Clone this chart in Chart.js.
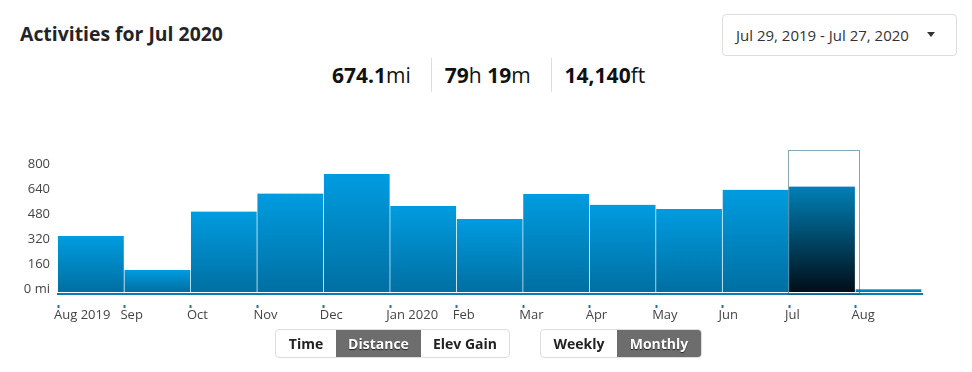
<!DOCTYPE html>
<html>
<head>
<meta charset="utf-8">
<title>Activities for Jul 2020</title>
<script src="https://cdn.jsdelivr.net/npm/chart.js@4.4.1/dist/chart.umd.min.js"></script>
<style>
  body { margin: 0; width: 972px; height: 372px; position: relative; overflow: hidden; background: #fff; font-family: "Open Sans", sans-serif; color: #242428; }
  .title { position: absolute; left: 20px; top: 20px; font-size: 19.4px; font-weight: 700; line-height: 28px; }
  .stats { position: absolute; left: 332px; top: 58px; height: 34px; display: flex; }
  .stat { padding: 0 20px 0 13px; font-size: 21px; line-height: 34px; color: #111; }
  .stat:first-child { padding-left: 0; }
  .stat + .stat { border-left: 1px solid #ddd; }
  .range { position: absolute; left: 722px; top: 14px; width: 235px; height: 42px; box-sizing: border-box; border: 1px solid #ddd; border-radius: 4px; font-size: 15px; line-height: 40px; padding-left: 13px; color: #333; }
  .range:after { content: ''; position: absolute; right: 21px; top: 17px; border-left: 4px solid transparent; border-right: 4px solid transparent; border-top: 5px solid #333; }
  .chart-wrap { position: absolute; left: 0; top: 134px; width: 972px; height: 196px; }
  .group { position: absolute; top: 329px; height: 29px; display: flex; box-sizing: border-box; border: 1px solid #ddd; border-radius: 4px; overflow: hidden; background: #fff; }
  .group span { display: block; text-align: center; font-size: 14px; font-weight: 700; line-height: 27px; color: #222; }
  .group span.on { background: #6d6d6d; color: #fff; text-shadow: 0 1px 1px #222; }
</style>
</head>
<body>
  <div class="title">Activities for Jul 2020</div>
  <div class="range">Jul 29, 2019 - Jul 27, 2020</div>
  <div class="stats">
    <div class="stat"><b>674.1</b>mi</div>
    <div class="stat"><b>79</b>h <b>19</b>m</div>
    <div class="stat"><b>14,140</b>ft</div>
  </div>
  <div class="chart-wrap"><canvas id="activityChart" width="972" height="196"></canvas></div>
  <div class="group" style="left:275px; width:235px;">
    <span style="width:60px;">Time</span><span class="on" style="width:85px;">Distance</span><span style="width:88px;">Elev Gain</span>
  </div>
  <div class="group" style="left:540px; width:162px;">
    <span style="width:76px;">Weekly</span><span class="on" style="width:84px;">Monthly</span>
  </div>
<script>
  // monthly distance (miles)
  const monthLabels = ['Aug 2019', 'Sep', 'Oct', 'Nov', 'Dec', 'Jan 2020', 'Feb', 'Mar', 'Apr', 'May', 'Jun', 'Jul', 'Aug'];
  const distanceMi = [358, 141, 514, 629, 755, 550, 467, 627, 557, 531, 653, 674.1, 18];
  const yTicks = [0, 160, 320, 480, 640, 800];
  const selectedIndex = 11; // Jul 2020
  const yMin = -12.8;
  const yMax = 909;

  Chart.defaults.font.family = '"Open Sans", sans-serif';
  Chart.defaults.color = '#444';

  const axisBlue = '#0a7bb8';

  // per-bar vertical gradient, top of the bar to the baseline
  const barFill = (ctx) => {
    const chart = ctx.chart;
    const y = chart.scales.y;
    if (!chart.chartArea || !y || ctx.type !== 'data') return '#0090d0';
    const top = y.getPixelForValue(distanceMi[ctx.dataIndex]);
    const bottom = y.getPixelForValue(0);
    const g = chart.ctx.createLinearGradient(0, top, 0, Math.max(bottom, top + 1));
    if (ctx.dataIndex === selectedIndex) {
      g.addColorStop(0, '#0080b6');
      g.addColorStop(1, '#000e18');
    } else {
      g.addColorStop(0, '#009ce0');
      g.addColorStop(1, '#006fa2');
    }
    return g;
  };

  // dotted box around the selected month
  const selectionBox = {
    id: 'selectionBox',
    afterDatasetsDraw(chart) {
      const { ctx, chartArea, scales: { x } } = chart;
      const left = Math.round(x.getPixelForValue(selectedIndex)) - 1;
      const right = Math.round(x.getPixelForValue(selectedIndex + 1)) + 3;
      ctx.save();
      ctx.setLineDash([1, 1]);
      ctx.strokeStyle = '#0a4f75';
      ctx.lineWidth = 1;
      ctx.strokeRect(left + 0.5, Math.round(chartArea.top) + 0.5, right - left, Math.round(chartArea.bottom - chartArea.top));
      ctx.restore();
    }
  };

  new Chart(document.getElementById('activityChart').getContext('2d'), {
    type: 'bar',
    data: {
      datasets: [{
        label: 'Distance',
        data: distanceMi.map((v, i) => ({ x: i + 0.5, y: v })),
        backgroundColor: barFill,
        borderColor: '#fff',
        borderWidth: { top: 0, left: 0, bottom: 0, right: 1 },
        barPercentage: 1,
        categoryPercentage: 1
      }]
    },
    plugins: [selectionBox],
    options: {
      responsive: false,
      animation: false,
      layout: { padding: { top: 10, right: 50, bottom: 0, left: 0 } },
      plugins: {
        legend: { display: false },
        tooltip: { enabled: false }
      },
      scales: {
        x: {
          type: 'linear',
          offset: false,
          min: 0,
          max: monthLabels.length,
          afterBuildTicks: (s) => { s.ticks = monthLabels.map((_, i) => ({ value: i })); },
          afterFit: (s) => { s.height = 36; },
          border: { color: axisBlue, width: 2 },
          grid: {
            offset: false,
            drawOnChartArea: false,
            tickLength: 14,
            tickColor: axisBlue,
            tickWidth: 2,
            tickBorderDash: [4, 10],
            tickBorderDashOffset: 4
          },
          ticks: {
            autoSkip: false,
            maxRotation: 0,
            align: 'start',
            labelOffset: -4,
            padding: -1,
            font: { size: 13 },
            callback: (v) => monthLabels[v]
          }
        },
        y: {
          min: yMin,
          max: yMax,
          afterBuildTicks: (s) => { s.ticks = yTicks.map((v) => ({ value: v })); },
          afterFit: (s) => { s.width = 58; },
          border: { display: false },
          grid: { display: false, drawTicks: false },
          ticks: {
            padding: 8,
            labelOffset: -3,
            font: { size: 13 },
            callback: (v) => (v === 0 ? '0 mi' : v)
          }
        }
      }
    }
  });
</script>
</body>
</html>
